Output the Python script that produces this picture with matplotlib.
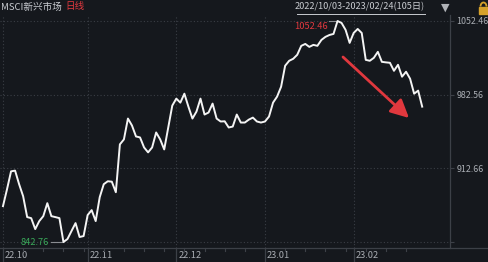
import matplotlib
matplotlib.use('Agg')
import matplotlib.pyplot as plt
import matplotlib.transforms as mtransforms
from matplotlib.lines import Line2D
from matplotlib.patches import Rectangle, Arc

# ---------------- data ----------------
title_name = "MSCI新兴市场"
period_label = "日线"
range_label = "2022/10/03-2023/02/24(105日)"

values = [
    876.8, 892.8, 909.8, 910.5, 897.6, 886.2, 866.4, 865.4, 855.0, 862.6,
    867.3, 879.6, 867.3, 866.4, 865.4, 842.76, 845.6, 853.2, 860.7, 847.5,
    848.4, 868.3, 873.0, 862.6, 885.3, 897.6, 900.4, 900.0, 890.0, 935.4,
    940.1, 959.9, 953.3, 942.9, 942.0, 932.5, 927.8, 932.5, 946.7, 940.1,
    930.6, 951.4, 972.2, 978.8, 975.0, 983.5, 971.2, 959.9, 966.5, 978.8,
    963.7, 965.6, 974.1, 959.9, 957.1, 957.3, 951.4, 952.3, 963.7, 956.1,
    956.1, 958.9, 960.8, 957.1, 956.1, 957.1, 961.8, 975.0, 980.7, 990.1,
    1010.0, 1014.7, 1016.6, 1020.4, 1028.9, 1030.7, 1027.9, 1029.8, 1028.9, 1034.5,
    1037.4, 1039.2, 1040.2, 1052.46, 1050.6, 1044.0, 1031.7, 1041.1, 1044.9, 1041.1,
    1015.6, 1014.7, 1017.5, 1023.2, 1013.7, 1013.2, 1012.8, 1005.2, 1010.9, 999.6,
    1004.3, 997.7, 983.5, 986.4, 971.2,
]
month_labels = ["22.10", "22.11", "22.12", "23.01", "23.02"]
month_start_idx = [0, 21, 43, 65, 87]
ytick_values = [842.76, 912.66, 982.56, 1052.46]
ytick_labels = ["", "912.66", "982.56", "1052.46"]
max_label = "1052.46"
min_label = "842.76"

# ---------------- style ----------------
BG = '#15181d'
GRID = '#3a3e45'
AXIS = '#3c4047'
TXT = '#a9adb3'
RED = '#e0383e'
GREEN = '#3aa85a'
FONT = ['Noto Sans CJK SC', 'DejaVu Sans']
plt.rcParams['font.family'] = FONT

W, H = 489, 262
fig = plt.figure(figsize=(W / 100, H / 100), dpi=100, facecolor=BG)

ax_left, ax_right, ax_top, ax_bottom = 0, 450, 15, 248
ax = fig.add_axes([ax_left / W, (H - ax_bottom) / H,
                   (ax_right - ax_left) / W, (ax_bottom - ax_top) / H])
ax.set_facecolor(BG)

n = len(values)
xs = list(range(n))
ax.plot(xs, values, color='#f4f4f4', lw=1.4, solid_joinstyle='round', zorder=3)

ax.set_xlim(-0.74, 110.9)
ax.set_ylim(837.07, 1058.15)

# grid
for yv in ytick_values:
    ax.axhline(yv, color=GRID, lw=0.8, ls=(0, (1, 2)), zorder=1)
for xi in month_start_idx:
    ax.axvline(xi, color=GRID, lw=0.8, ls=(0, (1, 2)), zorder=1)

for s in ['top', 'left', 'bottom']:
    ax.spines[s].set_visible(False)
ax.spines['right'].set_color(AXIS)
ax.spines['right'].set_linewidth(0.9)

ax.set_xticks([])
ax.yaxis.tick_right()
ax.set_yticks(ytick_values)
ax.set_yticklabels(ytick_labels)
ax.tick_params(axis='y', direction='out', length=3, width=0.8, colors=AXIS,
               labelcolor=TXT, labelsize=6.4, pad=1.5)

# bottom axis line across the whole width
yb = (H - ax_bottom) / H
fig.add_artist(Line2D([0, 1], [yb, yb], transform=fig.transFigure, color=AXIS, lw=0.9))

# month ticks and labels
tr = mtransforms.blended_transform_factory(ax.transData, fig.transFigure)
for xi, lab in zip(month_start_idx, month_labels):
    fig.add_artist(Line2D([xi, xi], [yb, 0], transform=tr, color=AXIS, lw=0.9))
    ax.text(xi + 0.5, (H - 255) / H, lab, transform=tr, color=TXT, fontsize=6.7,
            ha='left', va='center')
# minor weekly ticks
for xi in range(0, n, 5):
    if xi in month_start_idx:
        continue
    fig.add_artist(Line2D([xi, xi], [yb, yb - 3 / H], transform=tr, color=AXIS, lw=0.8))

# max / min annotations
imax = values.index(max(values))
imin = values.index(min(values))
ax.plot([imax - 2.0, imax], [values[imax], values[imax]], color='#8a8d92', lw=0.8, zorder=2)
ax.annotate(max_label, xy=(imax - 2.0, values[imax]), xytext=(-1, -4),
            textcoords='offset points', color=RED, fontsize=6.7, ha='right', va='center')
ax.plot([imin - 3.0, imin], [values[imin], values[imin]], color='#8a8d92', lw=0.8, zorder=2)
ax.annotate(min_label, xy=(imin - 3.0, values[imin]), xytext=(-2, 0),
            textcoords='offset points', color=GREEN, fontsize=6.7, ha='right', va='center')

# red arrow
ax.annotate('', xy=(409 / 450, (ax_bottom - 118) / 233), xytext=(343 / 450, (ax_bottom - 57) / 233),
            xycoords='axes fraction', textcoords='axes fraction',
            arrowprops=dict(arrowstyle='-|>,head_length=1.1,head_width=0.55',
                            color=RED, lw=2.0, shrinkA=0, shrinkB=0))

# header
fig.text(0.5 / W, 1 - 7 / H, title_name, color='#c8cbd0', fontsize=6.9, ha='left', va='center')
fig.text(65 / W, 1 - 7 / H, period_label, color=RED, fontsize=6.9, ha='left', va='center')
fig.text(425 / W, 1 - 7 / H, range_label, color='#c8cbd0', fontsize=6.6, ha='right', va='center')
fig.add_artist(Line2D([297 / W, 425 / W], [1 - 14 / H, 1 - 14 / H], transform=fig.transFigure,
                      color='#c8cbd0', lw=0.7))
fig.text(445 / W, 1 - 8 / H, '▼', color='#b0b3b8', fontsize=8, ha='center', va='center',
         family='DejaVu Sans')
# lock icon
fig.add_artist(Rectangle((479 / W, 1 - 14 / H), 9 / W, 7 / H, transform=fig.transFigure,
                         color='#d6a12a'))
fig.add_artist(Arc((483.5 / W, 1 - 6.5 / H), 6 / W, 8 / H, theta1=0, theta2=180,
                   transform=fig.transFigure, color='#d6a12a', lw=1.3))

fig.savefig('out.png', dpi=100, facecolor=BG)
